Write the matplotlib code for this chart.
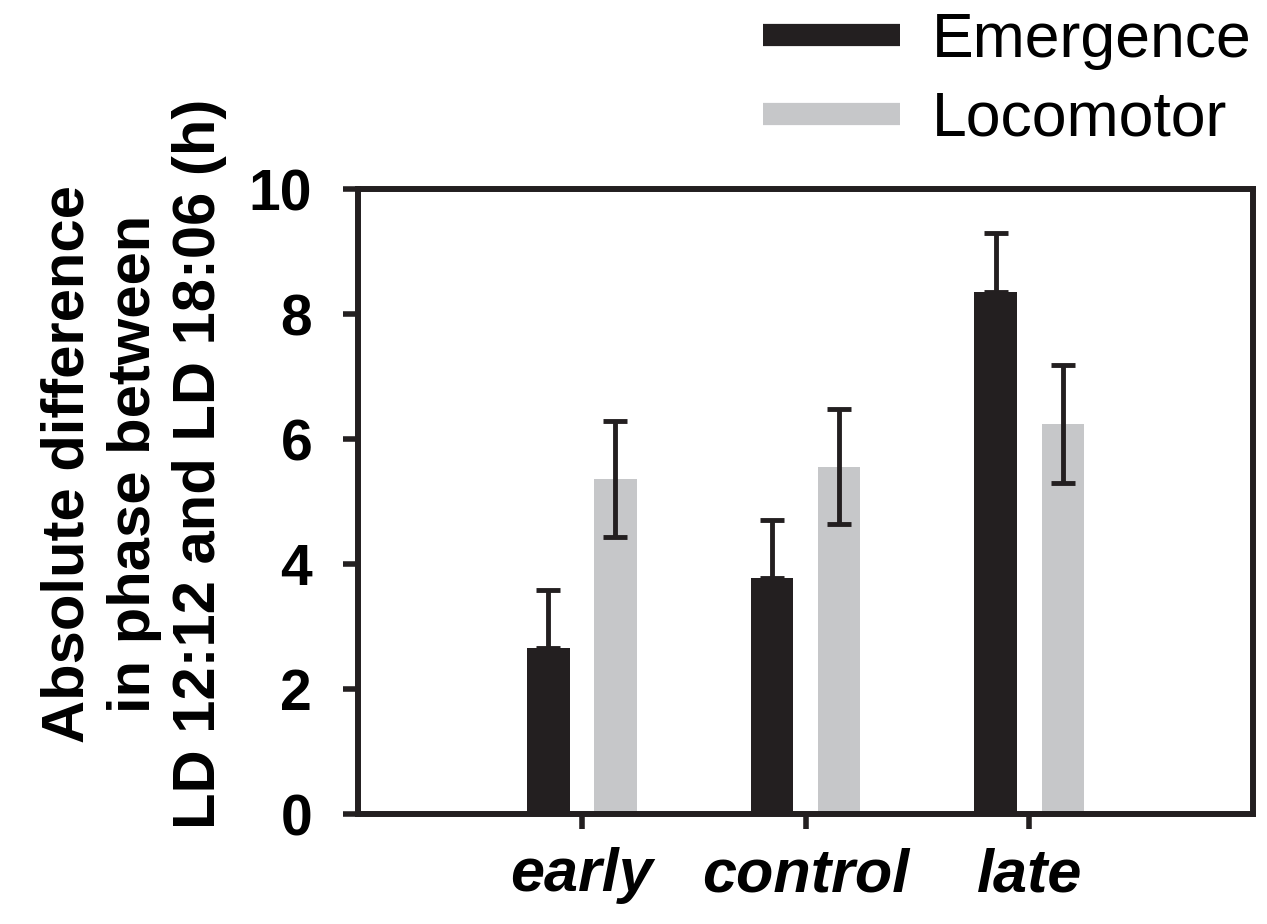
import matplotlib
matplotlib.use("Agg")
import matplotlib.pyplot as plt
from matplotlib.lines import Line2D
import numpy as np

plt.rcParams['font.family'] = ['Liberation Sans', 'DejaVu Sans']

categories = ['early', 'control', 'late']
emergence = [2.65, 3.78, 8.36]
emergence_err = [0.93, 0.93, 0.94]
locomotor = [5.36, 5.56, 6.24]
locomotor_err = [0.93, 0.92, 0.94]
series_labels = ['Emergence', 'Locomotor']
yticks = [0, 2, 4, 6, 8, 10]

c_dark = '#231f20'
c_gray = '#c6c7c9'

fig = plt.figure(figsize=(12.67, 9.24), dpi=100)
ax = fig.add_axes([0.2826, 0.1190, 0.7064, 0.6764])

x = np.arange(1, len(categories) + 1)
w = 0.19
off = 0.15
lw = 3.5
ax.bar(x - off, emergence, width=w, color=c_dark, zorder=2)
ax.bar(x + off, locomotor, width=w, color=c_gray, zorder=2)
ax.errorbar(x - off, emergence, yerr=[np.zeros(3), emergence_err], fmt='none',
            ecolor=c_dark, elinewidth=lw, capsize=8.5, capthick=lw, zorder=3)
ax.errorbar(x + off, locomotor, yerr=locomotor_err, fmt='none',
            ecolor=c_dark, elinewidth=lw, capsize=8.5, capthick=lw, zorder=3)

ax.set_xlim(0, 4)
ax.set_ylim(0, 10)
ax.set_yticks(yticks)
ax.set_yticklabels([str(t) for t in yticks], fontsize=41, fontweight='bold')
ax.set_xticks(x)
ax.set_xticklabels(categories, fontsize=44, fontweight='bold', style='italic')
ax.tick_params(axis='both', direction='out', length=11, width=4, color=c_dark)
ax.tick_params(axis='y', pad=22)
ax.tick_params(axis='x', pad=13)
for s in ax.spines.values():
    s.set_linewidth(4.3)
    s.set_color(c_dark)

ax.set_ylabel('Absolute difference\nin phase between\nLD 12:12 and LD 18:06 (h)',
              fontsize=43, fontweight='bold', linespacing=1.25)
ax.yaxis.set_label_coords(-0.146, 0.56)

handles = [Line2D([], [], color=c_dark, lw=16, solid_capstyle='butt'),
           Line2D([], [], color=c_gray, lw=16, solid_capstyle='butt')]
fig.legend(handles, series_labels, loc='upper right', bbox_to_anchor=(0.988, 0.988),
           frameon=False, fontsize=45, handlelength=2.18, handletextpad=0.52,
           labelspacing=0.31, borderpad=0, borderaxespad=0)

fig.savefig('out.png', dpi=100)
